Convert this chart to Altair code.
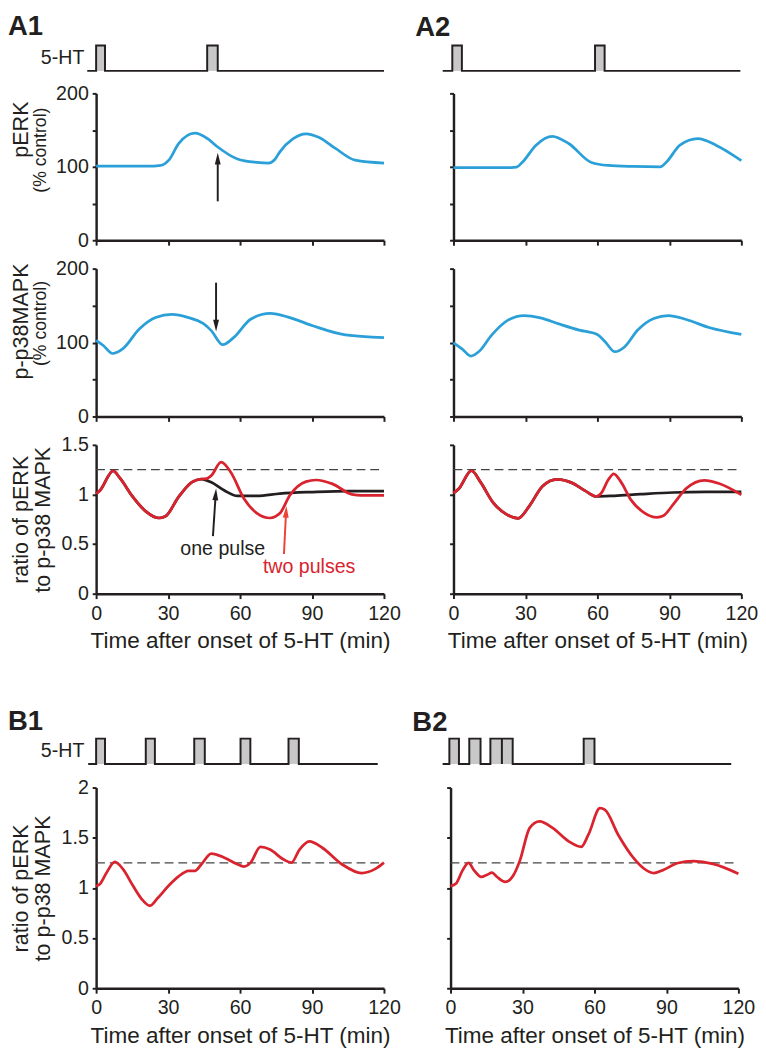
import altair as alt
import pandas as pd

# ---------------- data ----------------
# 5-HT pulse protocols (min): (start, end) and trace extent
A1_pulses = [(0.0, 3.7), (46.3, 50.7)]
A1_trace = (-3.7, 120.0)
A2_pulses = [(-0.5, 3.5), (59.0, 63.0)]
A2_trace = (-4.5, 119.6)
B1_pulses = [(0.0, 3.7), (20.7, 24.5), (40.9, 45.3), (60.2, 64.3), (80.2, 84.5)]
B1_trace = (-3.3, 117.4)
B2_pulses = [(-0.5, 3.5), (7.8, 12.5), (16.6, 21.4), (21.4, 25.9), (55.5, 60.0)]
B2_trace = (-3.3, 117.0)

# pERK (% control)
A1_perk_t = [0, 24, 26.2, 28, 30.3, 34.4, 41.2, 46.6, 50.7, 58.9, 67, 71.9, 74.5, 76.6, 82, 87.5, 93, 99.8, 108, 120]
A1_perk_v = [101, 101, 101.5, 103, 109, 131.6, 145.8, 138, 127, 110.7, 106, 105, 110, 120.4, 138, 145, 140, 125, 109, 105]
A2_perk_t = [0, 24, 26.2, 28.9, 34.4, 41.2, 48, 57.5, 64.4, 75, 86.2, 88.9, 94.4, 101.9, 109.4, 120]
A2_perk_v = [99, 99, 99.5, 107, 129.5, 141.5, 131.7, 105.8, 101.8, 100.5, 100, 107, 129.5, 138.4, 129.5, 108.5]

# p-p38MAPK (% control)
A1_p38_t = [0, 3, 6.8, 11.2, 18, 24.8, 31.6, 38.5, 44.6, 48, 52.8, 57.5, 64.4, 72.5, 80.7, 90.3, 103.9, 120]
A1_p38_v = [103, 96, 85.2, 91.8, 118.3, 133.8, 138.2, 133.8, 125.8, 116.1, 97.1, 107.3, 131.6, 139.5, 133.8, 122.7, 110.4, 106.8]
A2_p38_t = [0, 3.8, 7.2, 10.5, 15.9, 22.7, 29.5, 36.2, 44.3, 52.4, 59.9, 63.2, 67.3, 71.4, 76.8, 83.5, 89.6, 97, 106.5, 120]
A2_p38_v = [99.8, 90.8, 81.8, 87.6, 110.1, 130.3, 136.6, 133.5, 124.9, 116.9, 111, 101.1, 87.6, 94.4, 116.9, 132.6, 136.6, 131.2, 120.4, 111]

# ratio pERK / p-p38 MAPK
A1_one_t = [0, 1.6, 7.1, 9.8, 15.3, 20.7, 26.2, 28.9, 34.4, 39.8, 43.9, 48, 53.5, 58.9, 67.1, 76.6, 90.3, 105.3, 120]
A1_one_v = [1.009, 1.04, 1.238, 1.17, 0.976, 0.83, 0.763, 0.78, 0.976, 1.123, 1.156, 1.123, 1.04, 0.986, 0.986, 1.009, 1.025, 1.035, 1.035]
A1_two_t = [0, 1.6, 7.1, 9.8, 15.3, 20.7, 26.2, 28.9, 34.4, 39.8, 43.9, 46, 48, 52.1, 56.2, 61.6, 67.1, 72.5, 76.6, 80.7, 87.5, 91.6, 98.5, 106.6, 110.7, 120]
A1_two_v = [1.009, 1.04, 1.238, 1.17, 0.976, 0.83, 0.763, 0.78, 0.976, 1.123, 1.156, 1.16, 1.19, 1.326, 1.222, 0.96, 0.81, 0.763, 0.81, 0.99, 1.13, 1.146, 1.107, 1.002, 0.992, 0.992]
A2_one_t = [0, 2.3, 7.5, 11.2, 16.6, 22.1, 26.9, 31.6, 37.1, 43.2, 49.4, 54.8, 59.6, 67.1, 78, 91.6, 105.3, 120]
A2_one_v = [1.013, 1.06, 1.24, 1.127, 0.916, 0.80, 0.76, 0.883, 1.084, 1.153, 1.117, 1.039, 0.98, 0.987, 1.003, 1.02, 1.026, 1.026]
A2_two_t = [0, 2.3, 7.5, 11.2, 16.6, 22.1, 26.9, 31.6, 37.1, 43.2, 49.4, 54.8, 59.6, 61.6, 64.4, 66.8, 69.8, 73.9, 79.4, 84.8, 87.5, 91.6, 97.1, 104.6, 110.7, 120]
A2_two_v = [1.013, 1.06, 1.24, 1.127, 0.916, 0.80, 0.76, 0.883, 1.084, 1.153, 1.117, 1.039, 0.98, 1.013, 1.143, 1.208, 1.127, 0.948, 0.818, 0.77, 0.786, 0.9, 1.062, 1.143, 1.11, 0.997]
B1_t = [0, 1.6, 4.4, 7.8, 11.2, 15.3, 19.4, 22.4, 25.5, 30.3, 34.4, 38.5, 41.2, 43.9, 48, 53.5, 58.9, 61.6, 64.4, 68.5, 72.5, 78, 81.4, 84.8, 88.9, 94.4, 102.5, 110.7, 116.2, 120]
B1_v = [1.018, 1.04, 1.154, 1.259, 1.187, 1.024, 0.878, 0.823, 0.894, 1.024, 1.115, 1.171, 1.171, 1.236, 1.343, 1.301, 1.236, 1.213, 1.252, 1.408, 1.382, 1.285, 1.252, 1.382, 1.463, 1.398, 1.236, 1.148, 1.187, 1.252]
B2_t = [0, 2.3, 5, 7.5, 9.8, 12.8, 15.3, 17.3, 19.4, 22.8, 26.2, 28.9, 33, 37.1, 42.5, 49.4, 54.5, 57.5, 62.3, 64.4, 69.8, 76.6, 80.7, 84.8, 88.9, 94.4, 101.2, 109.4, 120]
B2_v = [1.018, 1.044, 1.175, 1.25, 1.175, 1.109, 1.132, 1.152, 1.109, 1.06, 1.126, 1.272, 1.599, 1.664, 1.599, 1.462, 1.41, 1.533, 1.794, 1.778, 1.533, 1.289, 1.191, 1.148, 1.181, 1.246, 1.266, 1.24, 1.142]

THRESHOLD = 1.25
X_TICKS = [0, 30, 60, 90, 120]
XLABEL = "Time after onset of 5-HT (min)"
RATIO_TITLE = ["ratio of pERK", "to p-p38 MAPK"]

# ---------------- styling ----------------
FONT = "Liberation Sans"
INK = "#231f20"
BLUE = "#2ba0d8"
RED = "#d9232e"
ARROW_RED = "#ef4136"
W = 294
HEAD_UP = "M-0.5,1 L0,-1 L0.5,1 Z"
HEAD_DOWN = "M-0.5,-1 L0,1 L0.5,-1 Z"

XS = alt.Scale(domain=[0, 120], nice=False, zero=False)


def x_axis(labels):
    return alt.Axis(values=X_TICKS, labels=labels, title=XLABEL if labels else None,
                    labelFlush=False, labelPadding=5, titlePadding=7, tickSize=5,
                    titleFontSize=23)


def y_axis(values, show_labels, title=None, label_expr=None, fmt=None):
    kw = dict(values=values, labelFlush=False, tickSize=4, labelPadding=4,
              labelOpacity=1 if show_labels else 0, title=title, titlePadding=7,
              titleFontSize=22, titleLineHeight=22)
    if label_expr:
        kw["labelExpr"] = label_expr
    if fmt:
        kw["format"] = fmt
    return alt.Axis(**kw)


def one_row():
    return pd.DataFrame({"k": [0]})


def text_at(txt, x, y, size, weight="normal", angle=0, align="left", baseline="alphabetic", color=INK):
    return alt.Chart(one_row()).mark_text(
        text=txt, fontSize=size, fontWeight=weight, angle=angle, align=align,
        baseline=baseline, color=color, font=FONT
    ).encode(x=alt.value(x), y=alt.value(y))


def pulse_chart(pulses, trace, label, label_x, label_y, show_5ht):
    xs, vs = [trace[0]], [0]
    for s, e in pulses:
        xs += [s, s, e, e]
        vs += [0, 1, 1, 0]
    xs.append(trace[1])
    vs.append(0)
    df = pd.DataFrame({"t": xs, "v": vs, "o": list(range(len(xs)))})
    rd = pd.DataFrame({"s": [p[0] for p in pulses], "e": [p[1] for p in pulses],
                       "y0": [0] * len(pulses), "y1": [1] * len(pulses)})
    ys = alt.Scale(domain=[0, 1], nice=False)
    rects = alt.Chart(rd).mark_rect(color="#c8c8c8").encode(
        x=alt.X("s:Q", scale=XS, axis=None), x2="e:Q",
        y=alt.Y("y1:Q", scale=ys, axis=None), y2="y0:Q")
    line = alt.Chart(df).mark_line(color=INK, strokeWidth=2, interpolate="linear").encode(
        x=alt.X("t:Q", scale=XS, axis=None), y=alt.Y("v:Q", scale=ys, axis=None),
        order="o:Q")
    layers = [rects, line, text_at(label, label_x, label_y, 28, weight="bold")]
    if show_5ht:
        layers.append(text_at("5-HT", -12, 13, 20, align="right", baseline="middle"))
    return alt.layer(*layers).properties(width=W, height=26)


def series(t, v, color, xax, ys, yax, width=2.8):
    df = pd.DataFrame({"t": t, "v": v})
    return alt.Chart(df).mark_line(color=color, strokeWidth=width, interpolate="monotone").encode(
        x=alt.X("t:Q", scale=XS, axis=xax), y=alt.Y("v:Q", scale=ys, axis=yax))


def arrow(xs_, ys_, head_x, head_y, angle, shape, color, xax, ys, yax):
    ldf = pd.DataFrame({"t": xs_, "v": ys_})
    hdf = pd.DataFrame({"t": [head_x], "v": [head_y]})
    ln = alt.Chart(ldf).mark_line(color=color, strokeWidth=2).encode(
        x=alt.X("t:Q", scale=XS, axis=xax), y=alt.Y("v:Q", scale=ys, axis=yax))
    hd = alt.Chart(hdf).mark_point(shape=shape, size=144, filled=True, opacity=1,
                                   color=color, strokeWidth=0).encode(
        x=alt.X("t:Q", scale=XS, axis=xax), y=alt.Y("v:Q", scale=ys, axis=yax),
        angle=alt.value(angle))
    return [ln, hd]


def pct_chart(t, v, show_labels, main_title, h, main_y=50, sub_y=58, arrow_layers_fn=None):
    ys = alt.Scale(domain=[0, 200], nice=False)
    yax = y_axis([0, 50, 100, 150, 200], show_labels,
                 label_expr="datum.value % 100 == 0 ? datum.label : ''")
    xax = x_axis(False)
    layers = [series(t, v, BLUE, xax, ys, yax)]
    if arrow_layers_fn:
        layers += arrow_layers_fn(xax, ys, yax)
    if main_title:
        layers.append(text_at(main_title, -70, main_y, 22, angle=270, align="center"))
        layers.append(text_at("(% control)", -51, sub_y, 18, angle=270, align="center"))
    return alt.layer(*layers).properties(width=W, height=h)


def ratio_A(one_t, one_v, two_t, two_v, show_labels, annotate):
    ys = alt.Scale(domain=[0, 1.5], nice=False)
    title = RATIO_TITLE if show_labels else None
    yax = y_axis([0, 0.5, 1, 1.5], show_labels, title=title, fmt="~g")
    xax = x_axis(True)
    dash = pd.DataFrame({"x0": [0], "x1": [120], "y": [THRESHOLD]})
    rule = alt.Chart(dash).mark_rule(color="#444444", strokeWidth=1.3, strokeDash=[9, 5]).encode(
        x=alt.X("x0:Q", scale=XS, axis=xax), x2="x1:Q", y=alt.Y("y:Q", scale=ys, axis=yax))
    layers = [rule, series(one_t, one_v, INK, xax, ys, yax), series(two_t, two_v, RED, xax, ys, yax)]
    if annotate:
        layers += arrow([48.7, 49.84], [0.58, 1.001], 49.84, 1.001, 4, HEAD_UP, INK, xax, ys, yax)
        layers += arrow([78.3, 79.18], [0.40, 0.826], 79.18, 0.826, 3, HEAD_UP, ARROW_RED, xax, ys, yax)
        lab = pd.DataFrame({"t": [52.8, 88.8], "v": [0.454, 0.267],
                            "s": ["one pulse", "two pulses"], "c": [INK, RED]})
        layers.append(alt.Chart(lab).mark_text(fontSize=20, font=FONT, baseline="middle").encode(
            x=alt.X("t:Q", scale=XS, axis=xax), y=alt.Y("v:Q", scale=ys, axis=yax),
            text="s:N", color=alt.Color("c:N", scale=None)))
    return alt.layer(*layers).properties(width=W, height=152)


def ratio_B(t, v, show_labels):
    ys = alt.Scale(domain=[0, 2], nice=False)
    title = RATIO_TITLE if show_labels else None
    yax = y_axis([0, 0.5, 1, 1.5, 2], show_labels, title=title, fmt="~g")
    xax = x_axis(True)
    dash = pd.DataFrame({"x0": [0], "x1": [120], "y": [THRESHOLD]})
    rule = alt.Chart(dash).mark_rule(color="#444444", strokeWidth=1.3, strokeDash=[9, 5]).encode(
        x=alt.X("x0:Q", scale=XS, axis=xax), x2="x1:Q", y=alt.Y("y:Q", scale=ys, axis=yax))
    return alt.layer(rule, series(t, v, RED, xax, ys, yax)).properties(width=W, height=205)


def perk_arrow(xax, ys, yax):
    return arrow([50.7, 50.7], [53, 111], 50.7, 111, 0, HEAD_UP, INK, xax, ys, yax)


def p38_arrow(xax, ys, yax):
    return arrow([50, 50], [181, 123], 50, 123, 0, HEAD_DOWN, INK, xax, ys, yax)


colA1 = alt.vconcat(
    pulse_chart(A1_pulses, A1_trace, "A1", -90, -11, True),
    pct_chart(A1_perk_t, A1_perk_v, True, "pERK", 150, 37, 58, perk_arrow),
    pct_chart(A1_p38_t, A1_p38_v, True, "p-p38MAPK", 151, 54, 56, p38_arrow),
    ratio_A(A1_one_t, A1_one_v, A1_two_t, A1_two_v, True, True),
    spacing=9,
)
colA2 = alt.vconcat(
    pulse_chart(A2_pulses, A2_trace, "A2", -39, -10, False),
    pct_chart(A2_perk_t, A2_perk_v, False, None, 150),
    pct_chart(A2_p38_t, A2_p38_v, False, None, 151),
    ratio_A(A2_one_t, A2_one_v, A2_two_t, A2_two_v, False, False),
    spacing=9,
)
colB1 = alt.vconcat(
    pulse_chart(B1_pulses, B1_trace, "B1", -90, -9, True),
    ratio_B(B1_t, B1_v, True),
    spacing=10,
)
colB2 = alt.vconcat(
    pulse_chart(B2_pulses, B2_trace, "B2", -39, -8, False),
    ratio_B(B2_t, B2_v, False),
    spacing=10,
)

chart = alt.vconcat(
    alt.hconcat(colA1, colA2, spacing=12),
    alt.hconcat(colB1, colB2, spacing=12),
    spacing=57,
).properties(
    padding={"left": 0, "top": -6, "right": 0, "bottom": 0}
).configure(
    font=FONT, background="white"
).configure_view(
    stroke=None
).configure_axis(
    grid=False, domainColor=INK, domainWidth=2.5, tickColor=INK, tickWidth=2,
    labelFontSize=20, labelColor=INK, labelFont=FONT, titleFont=FONT,
    titleFontSize=22, titleColor=INK, titleFontWeight="normal", labelOverlap=False,
)

chart.save("out.html", embed_options={"renderer": "svg", "actions": False})
